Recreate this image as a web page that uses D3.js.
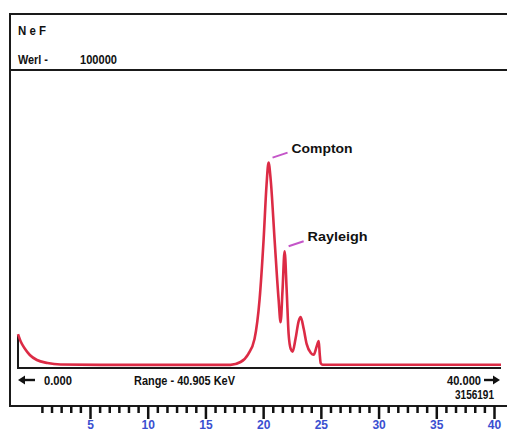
<!DOCTYPE html>
<html lang="en">
<head>
  <meta charset="UTF-8">
  <title>NeF spectrum</title>
  <style>
    body { margin: 0; padding: 0; background: #fff; }
    svg { display: block; }
    text { font-family: "Liberation Sans", Arial, sans-serif; font-weight: bold; fill: #111; font-size: 13px; }
    .ruler path { display: none; }
    .ruler line { stroke: #111; stroke-width: 2.5; }
    .ruler text { fill: #3a4fd0; font-size: 12px; font-family: "Liberation Sans", Arial, sans-serif; font-weight: bold; }
  </style>
</head>
<body>
  <div class="visual"></div>
  <script src="https://cdnjs.cloudflare.com/ajax/libs/d3/7.8.5/d3.min.js"></script>
  <script>
    'use strict';

    // spectrum, energy in keV and counts
    const energy = [0, 0.25, 0.6, 1.0, 1.6, 2.5, 3.6, 7, 12, 18, 18.85, 19.5, 20.03, 20.46, 20.8, 21.05, 21.22,
      21.4, 21.73, 22.07, 22.24, 22.4, 22.58, 22.75, 22.92, 23.1, 23.26, 23.5, 23.77, 23.94, 24.2, 24.45,
      24.8, 25.04, 25.3, 25.47, 25.55, 25.64, 25.8, 30, 35, 40.905];
    const counts = [10840, 8040, 5600, 3500, 1750, 700, 175, 60, 40, 60, 1050, 3850, 9100, 23000, 44000, 63300, 71000,
      65000, 44000, 23000, 15000, 26000, 39900, 26600, 10800, 5600, 4700, 9100, 15400, 16800, 12600, 7300,
      4200, 3600, 6600, 8400, 4000, 600, 100, 100, 100, 100];
    const rangeKeV = 40.905;
    const maxCounts = 100000;
    const totalCounts = 3156191;
    const rulerMajor = [5, 10, 15, 20, 25, 30, 35, 40];
    const peaks = [
      { name: "Compton", keV: 21.22, counts: 71000 },
      { name: "Rayleigh", keV: 22.58, counts: 39900 }
    ];

    const w = 507, h = 433;
    const svg = d3.select(".visual").append("svg").attr("width", w).attr("height", h);

    // narrow bold look: squeeze each label to the width it has on the print
    function label(xx, yy, str, width, anchor) {
      return svg.append("text")
        .attr("x", xx).attr("y", yy)
        .attr("text-anchor", anchor || "start")
        .attr("textLength", width)
        .attr("lengthAdjust", "spacingAndGlyphs")
        .text(str);
    }

    // frame
    const frame = svg.append("g").attr("stroke", "#1a1a1a").attr("stroke-width", 2).attr("fill", "none");
    frame.append("path").attr("d", `M${w},14 H10 V406 H${w}`);
    frame.append("line").attr("x1", 10).attr("x2", w).attr("y1", 70).attr("y2", 70);

    label(18, 35, "N e F", 28);
    label(18, 64, "Werl -", 30);
    label(80, 64, String(maxCounts), 37);

    // spectrum scales
    const x = d3.scaleLinear().domain([0, rangeKeV]).range([18, 501]);
    const y = d3.scaleLinear().domain([0, maxCounts]).range([365, 80]);

    svg.append("path")
      .attr("d", `M18,335 V368 H501`)
      .attr("fill", "none").attr("stroke", "#1a1a1a").attr("stroke-width", 2);

    const line = d3.line().x(d => x(d[0])).y(d => y(d[1])).curve(d3.curveMonotoneX);
    svg.append("path")
      .datum(energy.map((e, i) => [e, counts[i]]))
      .attr("d", line)
      .attr("fill", "none")
      .attr("stroke", "#dc2b45")
      .attr("stroke-width", 2.6)
      .attr("stroke-linejoin", "round");

    // peak labels
    const peakWidth = { Compton: 61, Rayleigh: 60 };
    peaks.forEach(p => {
      const px = x(p.keV), py = y(p.counts);
      svg.append("line")
        .attr("x1", px + 4).attr("y1", py - 5)
        .attr("x2", px + 19).attr("y2", py - 10)
        .attr("stroke", "#c455c8").attr("stroke-width", 2);
      label(px + 23, py - 10, p.name, peakWidth[p.name]);
    });

    // range line
    const arrow = (x1, x2, yy) => {
      const d = x2 > x1 ? 1 : -1;
      svg.append("line").attr("x1", x1).attr("x2", x2 - d * 4).attr("y1", yy).attr("y2", yy)
        .attr("stroke", "#111").attr("stroke-width", 2.4);
      svg.append("path").attr("d", `M${x2},${yy} L${x2 - d * 7},${yy - 4.5} L${x2 - d * 7},${yy + 4.5} Z`).attr("fill", "#111");
    };
    arrow(35, 18, 380);
    label(44, 385, d3.format(".3f")(0), 28);
    label(134, 385, `Range - ${rangeKeV} KeV`, 101);
    label(481, 385, d3.format(".3f")(40), 34, "end");
    arrow(484, 500, 380);
    label(494, 399, String(totalCounts), 39, "end");

    // ruler
    const r = d3.scaleLinear().domain([5, 40]).range([90, 494]);
    const minor = [];
    for (let k = 1; k < 6; k++) minor.push(5 - k * 5 / 6);
    rulerMajor.slice(0, -1).forEach(m => { for (let k = 1; k < 6; k++) minor.push(m + k * 5 / 6); });

    svg.append("g").attr("class", "ruler").attr("transform", "translate(0,406)")
      .call(d3.axisBottom(r).tickValues(minor).tickSize(7).tickFormat(""));
    svg.append("g").attr("class", "ruler").attr("transform", "translate(0,406)")
      .call(d3.axisBottom(r).tickValues(rulerMajor).tickSize(13).tickPadding(1));
  </script>
</body>
</html>
